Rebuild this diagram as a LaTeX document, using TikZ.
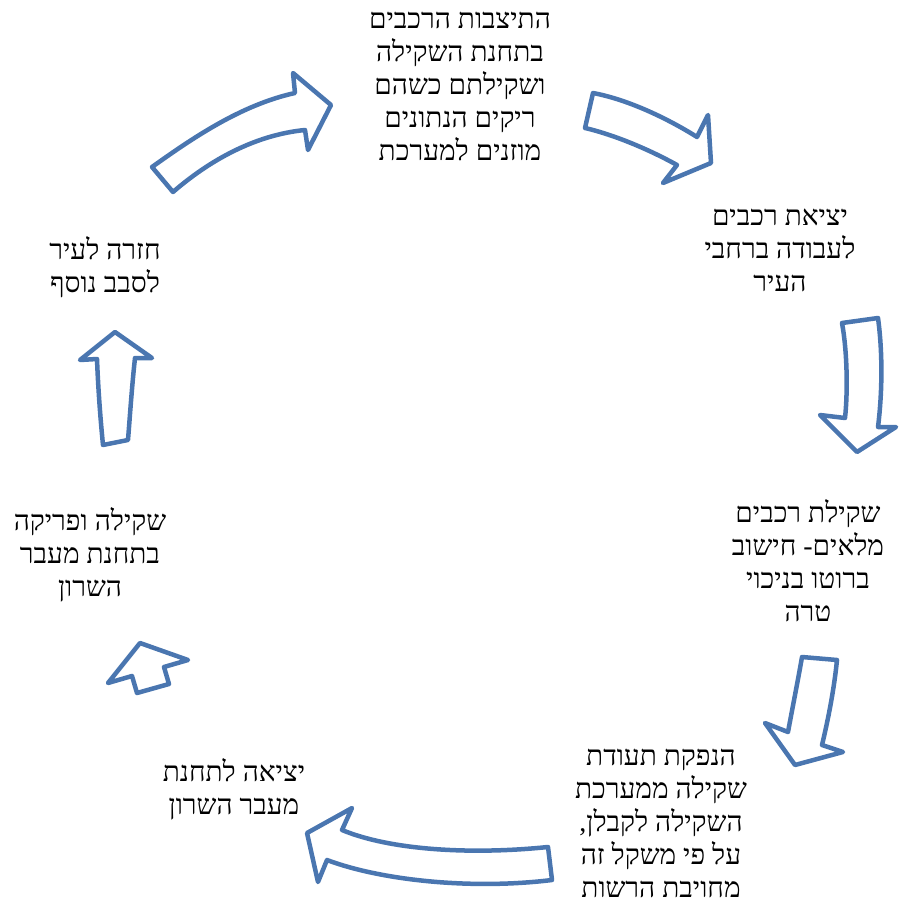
\documentclass[tikz,border=0pt]{standalone}
\usepackage{fontspec}
\newfontfamily\hebfont[Script=Hebrew]{Liberation Serif}
\TeXXeTstate=1
\newcommand{\heb}[1]{\beginR #1\endR}
\definecolor{arrowblue}{HTML}{4A76B0}

\begin{document}
\begin{tikzpicture}[x=1pt, y=-1pt,
    stage/.style={align=center, inner sep=0pt, font=\hebfont\fontsize{28}{33}\selectfont},
    blockarrow/.style={draw=arrowblue, fill=white, line width=4.5pt, line join=round}]
    \useasboundingbox (0,0) rectangle (898,904);

    \node[stage] (arrive) at (460,86) {\heb{התיצבות הרכבים}\\ \heb{בתחנת השקילה}\\ \heb{ושקילתם כשהם}\\ \heb{ריקים הנתונים}\\ \heb{מוזנים למערכת}};
    \node[stage] (depart) at (780,250) {\heb{יציאת רכבים}\\ \heb{לעבודה ברחבי}\\ \heb{העיר}};
    \node[stage] (gross) at (808,561) {\heb{שקילת רכבים}\\ \heb{מלאים- חישוב}\\ \heb{ברוטו בניכוי}\\ \heb{טרה}};
    \node[stage] (ticket) at (661,823) {\heb{הנפקת תעודת}\\ \heb{שקילה ממערכת}\\ \heb{השקילה לקבלן,}\\ \heb{על פי משקל זה}\\ \heb{מחויבת הרשות}};
    \node[stage] (totransfer) at (234,789) {\heb{יציאה לתחנת}\\ \heb{מעבר השרון}};
    \node[stage] (unload) at (90,555) {\heb{שקילה ופריקה}\\ \heb{בתחנת מעבר}\\ \heb{השרון}};
    \node[stage] (back) at (105,267) {\heb{חזרה לעיר}\\ \heb{לסבב נוסף}};

    % block arrows round the cycle
    \draw[blockarrow] (152,167) .. controls (190,140) and (240,105) .. (295,93) -- (293,73) -- (331,105) -- (308,150) -- (305,130) .. controls (255,135) and (210,160) .. (173,192) -- cycle;
    \draw[blockarrow] (593,93) .. controls (630,100) and (670,120) .. (697,137) -- (708,115) -- (711,163) -- (663,183) -- (677,165) .. controls (650,150) and (615,135) .. (585,128) -- cycle;
    \draw[blockarrow] (842,323) -- (878,318) .. controls (883,355) and (882,395) .. (878,427) -- (896,427) -- (857,452) -- (820,415) -- (845,418) .. controls (848,390) and (847,350) .. (842,323) -- cycle;
    \draw[blockarrow] (802,657) -- (837,660) .. controls (834,690) and (828,720) .. (822,745) -- (843,752) -- (795,765) -- (765,723) -- (788,732) .. controls (793,705) and (798,680) .. (802,657) -- cycle;
    \draw[blockarrow] (548,847) .. controls (470,855) and (390,850) .. (342,830) -- (352,808) -- (307,833) -- (318,882) -- (327,860) .. controls (380,880) and (470,890) .. (552,880) -- cycle;
    \draw[blockarrow] (169,684) -- (164,667) -- (188,660) -- (140,643) -- (108,683) -- (132,676) -- (137,693) -- cycle;
    \draw[blockarrow] (103,445) .. controls (100,415) and (98,385) .. (97,359) -- (80,360) -- (115,332) -- (152,358) -- (135,358) .. controls (132,385) and (130,415) .. (128,440) -- cycle;

\end{tikzpicture}
\end{document}
